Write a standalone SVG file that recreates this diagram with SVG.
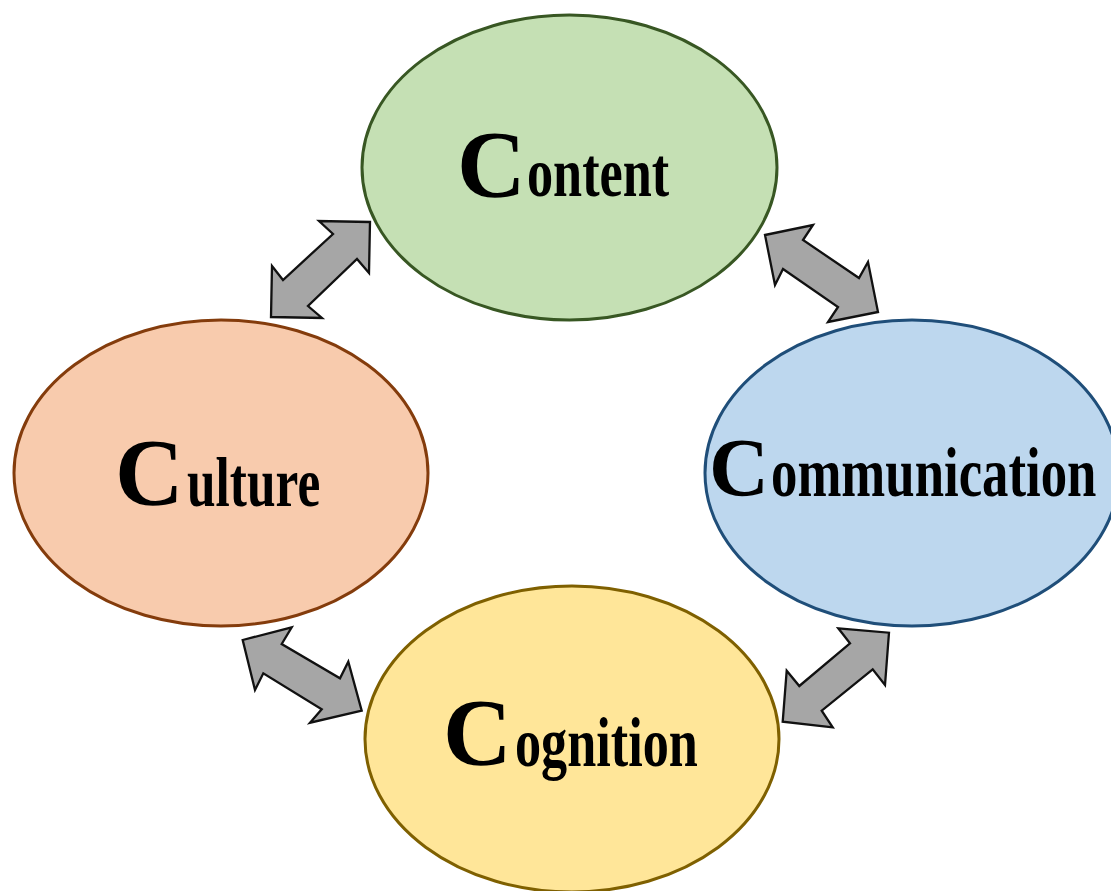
<svg xmlns="http://www.w3.org/2000/svg" width="1111" height="891" viewBox="0 0 1111 891">
<style>
  .node { stroke-width: 3; }
  .cap { font-family: "Liberation Serif", "Times New Roman", serif; font-weight: bold; fill: #000; }
  .low { font-family: "Liberation Serif", "Times New Roman", serif; font-weight: bold; font-size: 69px; fill: #000; }
  .arrow { fill: #a6a6a6; stroke: #111; stroke-width: 2.3; stroke-linejoin: miter; }
</style>
<rect width="1111" height="891" fill="#ffffff"/>
<g id="content">
  <ellipse class="node" cx="569.5" cy="167.5" rx="207.5" ry="152.5" fill="#c5e0b4" stroke="#385723"/>
  <text class="cap" x="457" y="197" font-size="95">C</text>
  <text class="low" transform="translate(527,196) scale(0.757,1)">ontent</text>
</g>
<g id="culture">
  <ellipse class="node" cx="221" cy="473" rx="207" ry="153" fill="#f8cbad" stroke="#843c0c"/>
  <text class="cap" x="115" y="505" font-size="95">C</text>
  <text class="low" transform="translate(187,506) scale(0.745,1)">ulture</text>
</g>
<g id="communication">
  <ellipse class="node" cx="912" cy="473" rx="207" ry="153" fill="#bdd7ee" stroke="#1f4e79"/>
  <text class="cap" x="709" y="495" font-size="83">C</text>
  <text class="low" transform="translate(771,496) scale(0.765,1)">ommunication</text>
</g>
<g id="cognition">
  <ellipse class="node" cx="572" cy="739" rx="207" ry="153" fill="#ffe699" stroke="#7f6000"/>
  <text class="cap" x="443" y="765" font-size="95">C</text>
  <text class="low" transform="translate(515,766) scale(0.757,1)">ognition</text>
</g>
<g id="connectors">
  <polygon class="arrow" points="370,222 369,273 357,259 308,306 322,318 271,317 272,266 283,280 333,234 319,221"/>
  <polygon class="arrow" points="765,235 813,225 803,240 859,278 868,262 878,312 828,322 838,307 783,269 775,285"/>
  <polygon class="arrow" points="242.7,640 291.7,627.3 281.7,644 340,678.3 348.3,661.7 361.7,710.7 310,722.7 321.7,709.3 263.3,673.3 255,690"/>
  <polygon class="arrow" points="889,632.7 885,685 872.7,669.3 821.7,710.7 832.7,727.3 782.7,721.7 786.7,670.7 799.3,686 850,643.3 838.3,628.3"/>
</g>
</svg>
